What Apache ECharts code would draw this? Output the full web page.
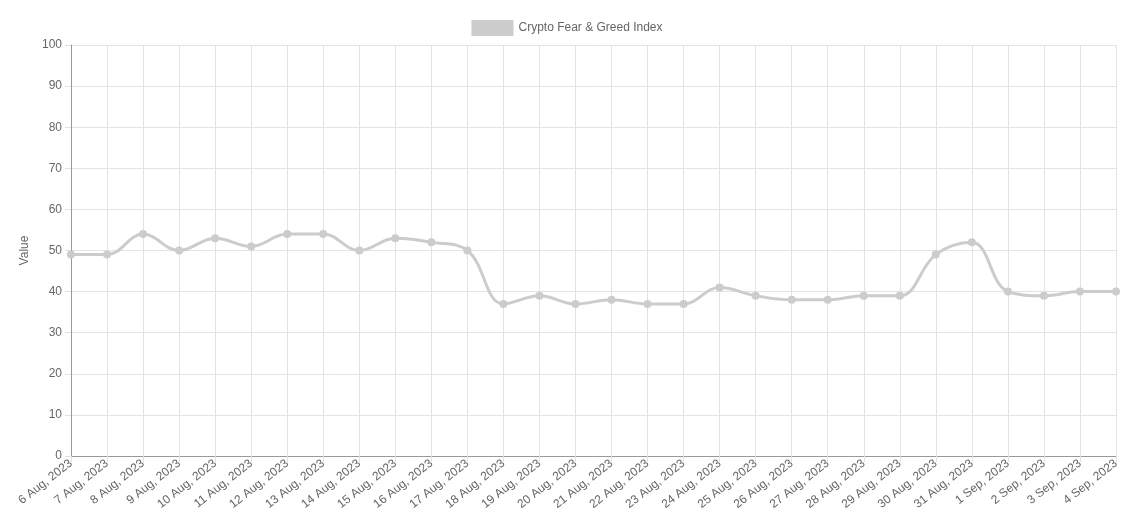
<!DOCTYPE html>
<html><head><meta charset="utf-8">
<script src="https://cdn.jsdelivr.net/npm/echarts@6/dist/echarts.min.js"></script>
<style>html,body{margin:0;padding:0;background:#fff}#c{width:1134px;height:526px}</style>
</head><body><div id="c"></div>
<script>
const categories = ["6 Aug, 2023","7 Aug, 2023","8 Aug, 2023","9 Aug, 2023","10 Aug, 2023","11 Aug, 2023","12 Aug, 2023","13 Aug, 2023","14 Aug, 2023","15 Aug, 2023","16 Aug, 2023","17 Aug, 2023","18 Aug, 2023","19 Aug, 2023","20 Aug, 2023","21 Aug, 2023","22 Aug, 2023","23 Aug, 2023","24 Aug, 2023","25 Aug, 2023","26 Aug, 2023","27 Aug, 2023","28 Aug, 2023","29 Aug, 2023","30 Aug, 2023","31 Aug, 2023","1 Sep, 2023","2 Sep, 2023","3 Sep, 2023","4 Sep, 2023"];
const fearGreed = [49,49,54,50,53,51,54,54,50,53,52,50,37,39,37,38,37,37,41,39,38,38,39,39,49,52,40,39,40,40];
const seriesName = "Crypto Fear & Greed Index";
const yMin = 0, yMax = 100, yStep = 10;

const font = "'Liberation Sans', Arial, Helvetica, sans-serif";
const chart = echarts.init(document.getElementById('c'));
chart.setOption({
  animation: false,
  textStyle: {fontFamily: font},
  legend: {
    top: 15, left: 'center',
    itemWidth: 42, itemHeight: 16, itemGap: 6,
    icon: 'rect',
    textStyle: {color: '#666', fontSize: 12, fontFamily: font},
    data: [{name: seriesName, itemStyle: {color: '#cccccc'}}]
  },
  grid: {left: 71, right: 18, top: 45, bottom: 70, containLabel: false},
  xAxis: {
    type: 'category', data: categories, boundaryGap: false,
    axisLine: {lineStyle: {color: '#999', width: 1}},
    axisTick: {show: true, length: 6, lineStyle: {color: '#e0e0e0'}, alignWithLabel: true},
    axisLabel: {rotate: 38, color: '#666', fontSize: 12, fontFamily: font, margin: 6, interval: 0},
    splitLine: {show: true, lineStyle: {color: '#e3e3e3', width: 1}}
  },
  yAxis: {
    type: 'value', min: yMin, max: yMax, interval: yStep,
    name: 'Value', nameLocation: 'middle', nameGap: 40, nameRotate: 90,
    nameTextStyle: {color: '#666', fontSize: 12, fontFamily: font},
    axisLine: {show: true, lineStyle: {color: '#999', width: 1}},
    axisTick: {show: true, length: 6, lineStyle: {color: '#e0e0e0'}},
    axisLabel: {color: '#666', fontSize: 12, fontFamily: font, margin: 9},
    splitLine: {show: true, lineStyle: {color: '#e3e3e3', width: 1}}
  },
  series: [{
    name: seriesName, type: 'line', data: fearGreed,
    smooth: 0.4,
    symbol: 'circle', symbolSize: 8,
    lineStyle: {color: '#cccccc', width: 3},
    itemStyle: {color: '#cccccc'}
  }]
});
</script></body></html>
